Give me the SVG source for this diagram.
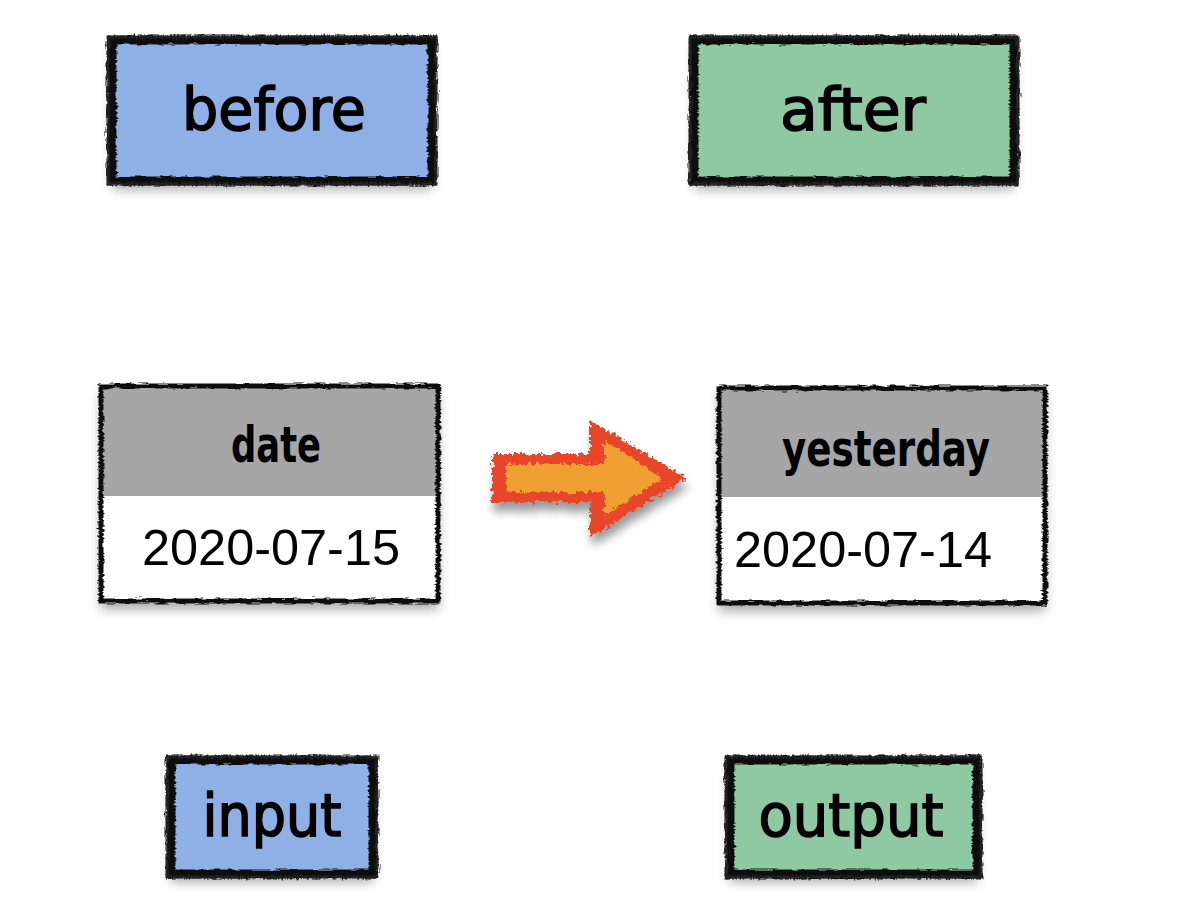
<svg xmlns="http://www.w3.org/2000/svg" width="1184" height="920" viewBox="0 0 1184 920">
<defs>
<filter id="shadow" x="-20%" y="-20%" width="140%" height="150%">
<feDropShadow dx="0" dy="8" stdDeviation="6" flood-color="#000" flood-opacity="0.35"/>
</filter>
<filter id="rough" x="-5%" y="-10%" width="110%" height="120%">
<feTurbulence type="fractalNoise" baseFrequency="0.09 0.5" numOctaves="2" seed="3" result="n"/>
<feDisplacementMap in="SourceGraphic" in2="n" scale="5" xChannelSelector="R" yChannelSelector="G"/>
</filter>
<filter id="rough2" x="-5%" y="-10%" width="110%" height="120%">
<feTurbulence type="fractalNoise" baseFrequency="0.5 0.08" numOctaves="2" seed="11" result="n"/>
<feDisplacementMap in="SourceGraphic" in2="n" scale="6" xChannelSelector="R" yChannelSelector="G"/>
</filter>
<filter id="fire" x="-15%" y="-20%" width="130%" height="140%">
<feTurbulence type="fractalNoise" baseFrequency="0.25" numOctaves="2" seed="7" result="n"/>
<feDisplacementMap in="SourceGraphic" in2="n" scale="9" xChannelSelector="R" yChannelSelector="G"/>
</filter>
<filter id="arrowshadow" x="-20%" y="-20%" width="140%" height="160%">
<feGaussianBlur in="SourceAlpha" stdDeviation="5"/>
<feOffset dx="2" dy="9" result="b"/>
<feComponentTransfer><feFuncA type="linear" slope="0.4"/></feComponentTransfer>
<feMerge><feMergeNode/><feMergeNode in="SourceGraphic"/></feMerge>
</filter>
</defs>
<style>
.border{fill:none;stroke:#111;stroke-width:9;filter:url(#rough)}
.border2{fill:none;stroke:#222;stroke-width:3;filter:url(#rough2)}
.thin{fill:none;stroke:#111;stroke-width:5;filter:url(#rough)}
.label{font-family:"Comic Sans MS","DejaVu Sans",sans-serif;font-size:58px;fill:#000;stroke:#000;stroke-width:1.6;text-anchor:middle}
.head{font-family:"DejaVu Sans Condensed","DejaVu Sans",sans-serif;font-weight:bold;font-size:49px;fill:#000;text-anchor:middle}
.val{font-family:"Liberation Sans",Arial,sans-serif;font-size:50px;fill:#000}
</style>
<rect width="1184" height="920" fill="#fff"/>

<g id="before">
<rect x="112" y="40" width="320" height="141" fill="#8EB0E6" filter="url(#shadow)"/>
<rect x="112" y="40" width="320" height="141" class="border"/>
<rect x="108" y="37" width="328" height="147" class="border2"/>
<text x="274" y="130" class="label" textLength="184" lengthAdjust="spacingAndGlyphs">before</text>
</g>

<g id="after">
<rect x="694" y="40" width="320" height="141" fill="#8FC9A3" filter="url(#shadow)"/>
<rect x="694" y="40" width="320" height="141" class="border"/>
<rect x="690" y="37" width="328" height="147" class="border2"/>
<text x="853" y="130" class="label" textLength="146" lengthAdjust="spacingAndGlyphs">after</text>
</g>

<g id="input-table">
<g filter="url(#shadow)">
<rect x="101" y="386" width="337" height="110" fill="#A6A6A6"/>
<rect x="101" y="496" width="337" height="105" fill="#fff"/>
</g>
<rect x="101" y="386" width="337" height="215" class="thin"/>
<line x1="88" y1="496" x2="458" y2="496" class="thin"/>
<line x1="88" y1="384" x2="458" y2="384" class="thin"/>
<line x1="88" y1="602" x2="458" y2="602" class="thin"/>
<text x="276" y="462" class="head" textLength="90" lengthAdjust="spacingAndGlyphs">date</text>
<text x="142" y="565" class="val" textLength="258" lengthAdjust="spacingAndGlyphs">2020-07-15</text>
</g>

<g id="output-table">
<g filter="url(#shadow)">
<rect x="719" y="388" width="326" height="109" fill="#A6A6A6"/>
<rect x="719" y="497" width="326" height="106" fill="#fff"/>
</g>
<rect x="719" y="388" width="326" height="215" class="thin"/>
<line x1="706" y1="497" x2="1062" y2="497" class="thin"/>
<line x1="706" y1="386" x2="1040" y2="386" class="thin"/>
<line x1="706" y1="603" x2="1050" y2="603" class="thin"/>
<text x="886" y="466" class="head" textLength="208" lengthAdjust="spacingAndGlyphs">yesterday</text>
<text x="734" y="567" class="val" textLength="258" lengthAdjust="spacingAndGlyphs">2020-07-14</text>
</g>

<g id="connectors">
<g filter="url(#arrowshadow)">
<path d="M492,454 L590,454 L590,420 L686,478 L590,538 L590,502 L492,502 Z" fill="#E8452A" filter="url(#fire)"/>
<path d="M506,464 L604,464 L604,440 L662,478 L604,516 L604,492 L506,492 Z" fill="#F0A030" filter="url(#fire)"/>
</g>
</g>

<g id="input">
<rect x="171" y="760" width="202" height="114" fill="#8EB0E6" filter="url(#shadow)"/>
<rect x="171" y="760" width="202" height="114" class="border"/>
<rect x="167" y="757" width="210" height="120" class="border2"/>
<text x="272" y="836" class="label" textLength="139" lengthAdjust="spacingAndGlyphs">input</text>
</g>

<g id="output">
<rect x="730" y="760" width="247" height="114" fill="#8FC9A3" filter="url(#shadow)"/>
<rect x="730" y="760" width="247" height="114" class="border"/>
<rect x="726" y="757" width="255" height="120" class="border2"/>
<text x="851" y="836" class="label" textLength="185" lengthAdjust="spacingAndGlyphs">output</text>
</g>
</svg>
